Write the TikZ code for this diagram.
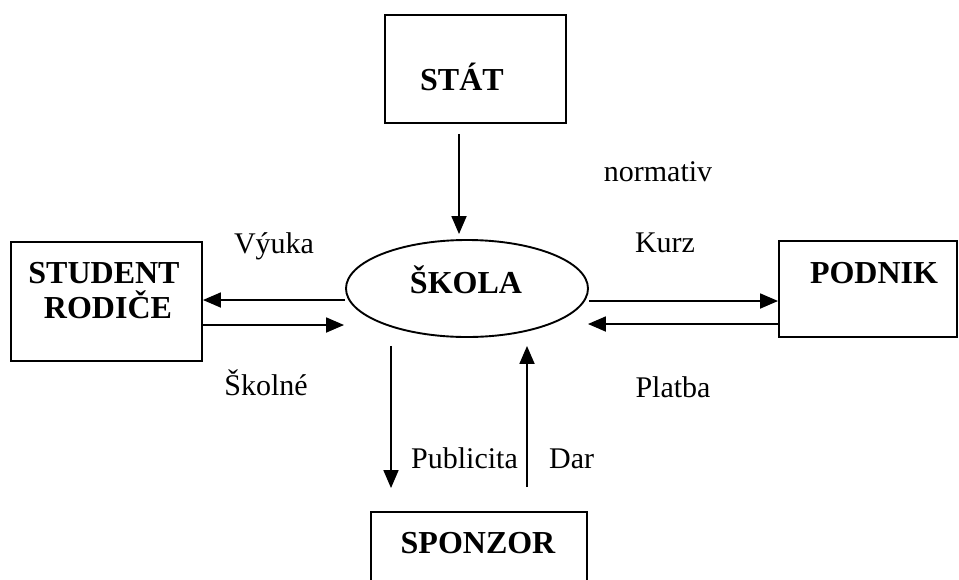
\documentclass[tikz,border=0pt]{standalone}
\usepackage{fontspec}
\setmainfont{Liberation Serif}
\usetikzlibrary{arrows.meta,shapes.geometric,calc}
\tikzset{
  boxnode/.style={draw, line width=1.9pt, rectangle, inner sep=0pt},
  ovalnode/.style={draw, line width=1.9pt, ellipse, inner sep=0pt},
  boldtxt/.style={font=\fontsize{32}{35}\selectfont\bfseries, inner sep=0pt, anchor=base, align=center},
  lbltxt/.style={font=\fontsize{30}{34}\selectfont, inner sep=0pt, anchor=base},
  flow/.style={line width=1.8pt, -{Triangle[length=18pt,width=15pt]}}
}
\begin{document}
\begin{tikzpicture}[x=1pt,y=-1pt]
\useasboundingbox (0,0) rectangle (959,579);
\clip (0,0) rectangle (959,579);
% boxes
\node[boxnode, minimum width=181pt, minimum height=108pt] (stat) at (475.5,69) {};
\node[ovalnode, minimum width=242pt, minimum height=97pt] (skola) at (467,288.5) {};
\node[boxnode, minimum width=191pt, minimum height=119pt] (student) at (106.5,301.5) {};
\node[boxnode, minimum width=178pt, minimum height=96pt] (podnik) at (868,289) {};
\node[boxnode, minimum width=216pt, minimum height=88pt] (sponzor) at (479,556) {};
% box texts
\node[boldtxt] (statT) at (462,90) {STÁT};
\node[boldtxt] (skolaT) at (466,293) {ŠKOLA};
\node[boldtxt] (studentT) at (104,283) {STUDENT};
\node[boldtxt] (rodiceT) at (108,318) {RODIČE};
\node[boldtxt] (podnikT) at (874,283) {PODNIK};
\node[boldtxt] (sponzorT) at (478,553) {SPONZOR};
% arrow end coordinates
\coordinate (a1s) at ($(stat.south)+(-16.5,10)$);
\coordinate (a1e) at ($(skola.north)+(-8,-5)$);
\coordinate (a2s) at ($(skola.west)+(0,11.5)$);
\coordinate (a2e) at ($(student.east)+(0,-1.5)$);
\coordinate (a3s) at ($(student.east)+(0,23.5)$);
\coordinate (a3e) at ($(skola.west)+(-1,36.5)$);
\coordinate (a4s) at ($(skola.east)+(0,12.5)$);
\coordinate (a4e) at ($(podnik.west)+(0,12)$);
\coordinate (a5s) at ($(podnik.west)+(0,35)$);
\coordinate (a5e) at ($(skola.east)+(-1,35.5)$);
\coordinate (a6s) at ($(skola.south)+(-76,8)$);
\coordinate (a6e) at ($(sponzor.north)+(-88,-23)$);
\coordinate (a7s) at ($(sponzor.north)+(48,-24)$);
\coordinate (a7e) at ($(skola.south)+(60,8)$);
% connectors
\draw[flow] (a1s) -- (a1s |- a1e);
\draw[flow] (a2s) -- (a2e);
\draw[flow] (a3s) -- (a3e);
\draw[flow] (a4s) -- (a4e);
\draw[flow] (a5s) -- (a5e);
\draw[flow] (a6s) -- (a6s |- a6e);
\draw[flow] (a7s) -- (a7s |- a7e);
% labels
\node[lbltxt] (normativ) at (658,181) {normativ};
\node[lbltxt] (vyuka) at (274,253) {Výuka};
\node[lbltxt] (kurz) at (665,252) {Kurz};
\node[lbltxt] (skolne) at (266,395) {Školné};
\node[lbltxt] (platba) at (673,397) {Platba};
\node[lbltxt, anchor=base west] (publicita) at (411,468) {Publicita};
\node[lbltxt, anchor=base west] (dar) at (549,468) {Dar};
\end{tikzpicture}
\end{document}
